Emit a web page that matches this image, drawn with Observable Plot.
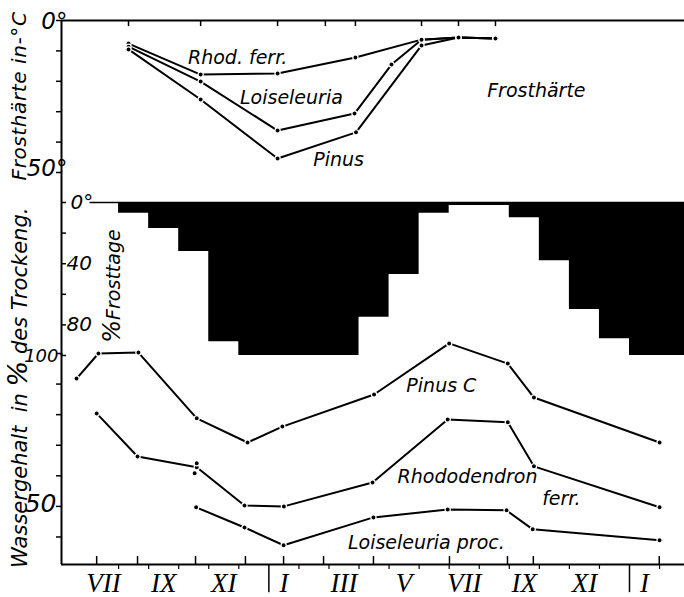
<!DOCTYPE html>
<html><head><meta charset="utf-8">
<script src="https://cdn.jsdelivr.net/npm/d3@7"></script>
<script src="https://cdn.jsdelivr.net/npm/@observablehq/plot@0.6"></script>
<style>
body{margin:0;background:#fff;}
#chart{position:relative;width:684px;height:597px;}
#chart svg{position:absolute;left:0;top:0;}
</style></head><body><div id="chart"></div>
<script>
// x = month index: 7 = July (year 1), 13 = January, 19 = July (year 2), 25 = January (year 3)
const monthLabels = ["VII","IX","XI","I","III","V","VII","IX","XI","I"];
const monthLabelMonths = [7,9,11,13,15,17,19,21,23,25];
const yearBreaks = [13,25];
const monthBounds = [8,9,10,11,12,14,15,16,17,18,19,20,21,22,23,24,26];

// Frosthärte (−°C)
const hardTickDates = [8.33,10.73,13.29,14.88,15.88,18.08,19.31,20.54];
const hardTicks = [0,10,20,30,40,50];
const rhodHardDates = [8.33,10.73,13.29,15.88,18.08,19.31,20.54];
const rhodHard = [7.6,17.8,17.4,12.2,6.3,5.6,5.9];
const loisHardDates = [8.33,10.73,13.29,15.85,17.08,18.08,19.31,20.54];
const loisHard = [8.6,20.1,36.2,30.6,14.5,6.3,5.6,5.9];
const pinusHardDates = [8.33,10.73,13.29,15.9,18.08,19.31,20.54];
const pinusHard = [9.5,26.0,45.4,36.8,8.2,5.6,5.9];
const hardLabels = ["Rhod. ferr.","Loiseleuria","Pinus","Frosthärte"];
const hardLabelX = [11.96,13.75,15.32,21.9];
const hardLabelY = [12.2,25.3,45.7,23];

// % Frosttage per month (month start index)
const frostMonths = [7,8,9,10,11,12,13,14,15,16,17,18,19,20,21,22,23,24,25,26,27];
const frostDays   = [0,7,17,32,91,100,100,100,100,75,47,7,2,2,10,38,70,89,100,100,100];
const dayTicks = [0,20,40,60,80,100];

// Wassergehalt in % des Trockengewichts
const waterTicks = [40,50,60,70,80,90,100];
const sampleDates = [7.27,8.63,10.56,12.22,13.49,14.82,16.48,19.01,20.94,21.80,25.99];
const pinusDates = [6.60,7.33,8.66,10.6,12.29,13.45,16.5,19.0,20.95,21.82,26.0];
const pinusWater = [91.8,100,100.3,78.8,70.9,76.1,86.6,103.3,96.7,85.6,70.9];
const rhodDates = [7.27,8.63,10.6,12.19,13.5,16.45,18.95,20.95,21.82,26.0];
const rhodWater = [80.4,66.3,62.8,50.3,50.0,57.8,78.4,77.5,63.1,49.7];
const rhodExtraDates = [10.6,10.53];
const rhodExtraWater = [64.1,60.8];
const loisDates = [10.58,12.19,13.49,16.48,18.95,20.91,21.78,26.0];
const loisWater = [49.7,43.1,37.3,46.4,49.0,48.7,42.5,38.9];
const waterLabels = ["Pinus C","Rhododendron","ferr.","Loiseleuria proc."];
const waterLabelX = [18.74,19.61,22.73,18.24];
const waterLabelY = [89.5,59.5,52.6,38.2];

const W = 684, H = 597;
const X0 = 6.1, X1 = 26.83;
const PXM = (X1 - X0) / (W - 61); // months per pixel
const FONT = "DejaVu Sans";
const pts = (xs, ys) => xs.map((x, i) => ({x, y: ys[i]}));
const lineOpts = {x: "x", y: "y", stroke: "black", strokeWidth: 2};
const dotOpts = {x: "x", y: "y", r: 2.6, fill: "black", stroke: "white", strokeWidth: 1.2};
const txt = {fontFamily: FONT, fontStyle: "italic", fill: "black"};

function plotPanel(marginTop, marginBottom, y, marks) {
  return Plot.plot({
    width: W, height: H, marginLeft: 61, marginRight: 0, marginTop, marginBottom,
    x: {domain: [X0, X1], axis: null}, y: {...y, axis: null},
    style: {background: "transparent", fontFamily: FONT, overflow: "visible"},
    marks
  });
}

// Panel 1: Frosthärte
const p1 = plotPanel(20, H - 172, {domain: [0, 50], reverse: true}, [
  Plot.ruleY([0], {strokeWidth: 2}),
  Plot.ruleX([X0], {y1: 0, y2: 50, strokeWidth: 2}),
  Plot.ruleY(hardTicks, {y: d => d, x1: X0 - 5 * PXM, x2: X0, strokeWidth: 1.5}),
  Plot.ruleX(hardTickDates, {x: d => d, y1: 0, y2: 2, strokeWidth: 1.5}),
  Plot.line(pts(rhodHardDates, rhodHard), lineOpts),
  Plot.line(pts(loisHardDates, loisHard), lineOpts),
  Plot.line(pts(pinusHardDates, pinusHard), lineOpts),
  Plot.dot(pts(rhodHardDates, rhodHard), dotOpts),
  Plot.dot(pts(loisHardDates, loisHard), dotOpts),
  Plot.dot(pts(pinusHardDates, pinusHard), dotOpts),
  Plot.text(hardLabels, {x: (d, i) => hardLabelX[i], y: (d, i) => hardLabelY[i], text: d => d, fontSize: 19, ...txt}),
  Plot.text(["0°"], {x: () => X0, y: () => 0, text: d => d, textAnchor: "end", dx: 6, dy: 1, fontSize: 23, ...txt}),
  Plot.text(["50°"], {x: () => X0, y: () => 50, text: d => d, textAnchor: "end", dx: 6, dy: -4, fontSize: 23, ...txt})
]);

// Panel 2: % Frosttage
const p2 = plotPanel(202, H - 355, {domain: [0, 100], reverse: true}, [
  Plot.areaY(pts(frostMonths, frostDays), {x: "x", y: "y", curve: "step-after", fill: "black"}),
  Plot.ruleY([0], {x1: 7.05, x2: X1, strokeWidth: 1.5}),
  Plot.ruleX([X0], {y1: -20, y2: 100, strokeWidth: 2}),
  Plot.ruleY(dayTicks, {y: d => d, x1: X0, x2: X0 + 5 * PXM, strokeWidth: 1.5}),
  Plot.text(["0°"], {x: () => X0, y: () => 0, text: d => d, textAnchor: "start", dx: 9, fontSize: 20, ...txt}),
  Plot.text(["40", "80"], {x: () => X0, y: (d, i) => [40, 80][i], text: d => d, textAnchor: "start", dx: 5, fontSize: 20, ...txt})
]);

// Panel 3: Wassergehalt
const p3 = plotPanel(353, 33, {domain: [31, 100]}, [
  Plot.ruleY([31], {strokeWidth: 2}),
  Plot.ruleX([X0], {y1: 31, y2: 100, strokeWidth: 2}),
  Plot.ruleY(waterTicks, {y: d => d, x1: X0 - 5 * PXM, x2: X0, strokeWidth: 1.5}),
  Plot.ruleX(sampleDates, {x: d => d, y1: 31, y2: 33.6, strokeWidth: 1.5}),
  Plot.ruleX(monthBounds, {x: d => d, y1: 31, y2: 29.4, strokeWidth: 1.2}),
  Plot.ruleX(yearBreaks, {x: d => d, y1: 31, y2: 21.8, strokeWidth: 1.5}),
  Plot.line(pts(pinusDates, pinusWater), lineOpts),
  Plot.line(pts(rhodDates, rhodWater), lineOpts),
  Plot.line(pts(loisDates, loisWater), lineOpts),
  Plot.dot(pts(pinusDates, pinusWater), dotOpts),
  Plot.dot(pts(rhodDates, rhodWater), dotOpts),
  Plot.dot(pts(rhodExtraDates, rhodExtraWater), dotOpts),
  Plot.dot(pts(loisDates, loisWater), dotOpts),
  Plot.text(waterLabels, {x: (d, i) => waterLabelX[i], y: (d, i) => waterLabelY[i], text: d => d, fontSize: 19, ...txt}),
  Plot.text(["100"], {x: () => X0, y: () => 100, text: d => d, textAnchor: "end", dx: -3, dy: 3, fontSize: 18, ...txt}),
  Plot.text(["50"], {x: () => X0, y: () => 50, text: d => d, textAnchor: "end", dx: -5, dy: -2, fontSize: 25, ...txt}),
  Plot.text(monthLabels, {x: (d, i) => monthLabelMonths[i] + 0.5, y: () => 31, dy: 19, text: d => d, fontSize: 27, fontFamily: "Liberation Serif", fontStyle: "italic", fill: "black"})
]);

const chart = document.getElementById("chart");
[p2, p1, p3].forEach(s => chart.appendChild(s));

// Axis titles
const svg = d3.select(p3);
const title = (x, y, anchor, size) => svg.append("text")
  .attr("transform", `translate(${x},${y}) rotate(-90)`)
  .attr("text-anchor", anchor)
  .attr("font-family", FONT).attr("font-style", "italic").attr("font-size", size).attr("fill", "black");
title(26, 96, "middle", 20).attr("letter-spacing", 0.6).text("Frosthärte in-°C");
const wt = title(27, 568, "start", 21);
wt.append("tspan").text("Wassergehalt  in ");
wt.append("tspan").attr("font-size", 27).text("%");
wt.append("tspan").text(" des Trockeng.");
const ft = title(120, 286, "middle", 19);
ft.append("tspan").attr("font-size", 24).text("%");
ft.append("tspan").text("Frosttage");
</script>
</body></html>
